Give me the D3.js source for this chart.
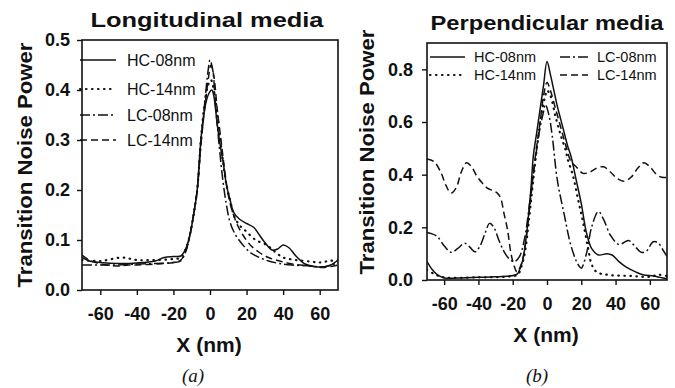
<!DOCTYPE html>
<html>
<head>
<meta charset="utf-8">
<script src="https://cdn.jsdelivr.net/npm/d3@7"></script>
<style>
  body { margin: 0; background: #fff; }
  svg { display: block; }
  text { font-family: "Liberation Sans", Arial, sans-serif; fill: #111; }
</style>
</head>
<body>
<svg id="chart" width="675" height="388"></svg>
<script>
// ---- data ----
const seriesNames = ['HC-08nm', 'HC-14nm', 'LC-08nm', 'LC-14nm'];
const xTicks = [-60, -40, -20, 0, 20, 40, 60];
const longTicks = [0.0, 0.1, 0.2, 0.3, 0.4, 0.5];
const perpTicks = [0.0, 0.2, 0.4, 0.6, 0.8];

// (a) longitudinal media
const longHC08x = [-70, -66, -60, -50, -40, -30, -25, -20, -16, -13, -11, -9, -7, -6, -5, -3, -1, 1, 2, 4, 6, 7, 9, 11, 13, 16, 20, 24, 27, 30, 34, 37, 40, 43, 47, 52, 57, 62, 66, 70];
const longHC08y = [0.065, 0.058, 0.055, 0.053, 0.054, 0.058, 0.065, 0.067, 0.068, 0.085, 0.11, 0.15, 0.2, 0.25, 0.3, 0.36, 0.39, 0.40, 0.39, 0.33, 0.28, 0.26, 0.21, 0.18, 0.155, 0.142, 0.133, 0.125, 0.11, 0.095, 0.08, 0.082, 0.09, 0.085, 0.068, 0.052, 0.047, 0.046, 0.05, 0.06];
const longHC14x = [-70, -60, -48, -40, -30, -20, -16, -13, -11, -9, -7, -5, -3, -1, 0.5, 3, 5, 7, 9, 11, 13, 16, 19, 25, 31, 36, 40, 47, 55, 60, 65, 70];
const longHC14y = [0.06, 0.058, 0.065, 0.06, 0.06, 0.062, 0.065, 0.085, 0.11, 0.15, 0.2, 0.3, 0.37, 0.41, 0.42, 0.38, 0.32, 0.26, 0.21, 0.18, 0.15, 0.13, 0.12, 0.1, 0.09, 0.075, 0.065, 0.06, 0.057, 0.055, 0.058, 0.06];
const longLC08x = [-70, -60, -50, -40, -30, -20, -16, -13, -11, -9, -7, -5, -3, -1, 0, 1.5, 3, 5, 7, 9, 11, 14, 18, 22, 27, 32, 38, 45, 55, 62, 70];
const longLC08y = [0.05, 0.05, 0.05, 0.052, 0.053, 0.055, 0.058, 0.08, 0.11, 0.15, 0.2, 0.29, 0.37, 0.44, 0.46, 0.44, 0.37, 0.29, 0.22, 0.17, 0.135, 0.11, 0.09, 0.075, 0.065, 0.058, 0.053, 0.05, 0.048, 0.046, 0.055];
const longLC14x = [-70, -66, -60, -50, -45, -40, -30, -20, -16, -13, -11, -9, -7, -5, -3, -1, 0.5, 2, 4, 6, 8, 10, 12, 15, 18, 22, 27, 32, 38, 45, 55, 62, 70];
const longLC14y = [0.07, 0.06, 0.052, 0.048, 0.05, 0.05, 0.052, 0.055, 0.06, 0.08, 0.11, 0.15, 0.2, 0.29, 0.36, 0.42, 0.45, 0.43, 0.36, 0.3, 0.24, 0.19, 0.16, 0.13, 0.11, 0.09, 0.075, 0.065, 0.058, 0.052, 0.048, 0.045, 0.05];

// (b) perpendicular media
const perpHC08x = [-70, -67, -64, -60, -50, -40, -30, -22, -18, -17, -15, -14, -12, -10, -9, -8, -6, -4, -2, 0, 2, 4, 6, 8, 10, 12, 14, 17, 20, 23, 26, 30, 35, 38, 42, 46, 52, 56, 62, 66, 70];
const perpHC08y = [0.07, 0.04, 0.02, 0.008, 0.008, 0.01, 0.012, 0.015, 0.02, 0.025, 0.057, 0.08, 0.17, 0.3, 0.38, 0.47, 0.56, 0.65, 0.74, 0.83, 0.78, 0.72, 0.66, 0.61, 0.56, 0.51, 0.47, 0.38, 0.29, 0.18, 0.12, 0.095, 0.1, 0.095, 0.07, 0.05, 0.03, 0.02, 0.015, 0.01, 0.005];
const perpHC14x = [-70, -65, -60, -40, -25, -20, -17, -15, -13, -11, -9, -7, -5, -3, -1, 0, 2, 5, 8, 11, 12, 15, 18, 21, 24, 26, 29, 35, 50, 60, 65, 70];
const perpHC14y = [0.04, 0.02, 0.01, 0.01, 0.012, 0.015, 0.02, 0.05, 0.1, 0.2, 0.32, 0.44, 0.55, 0.64, 0.7, 0.72, 0.7, 0.62, 0.55, 0.49, 0.46, 0.4, 0.31, 0.22, 0.12, 0.06, 0.03, 0.02, 0.015, 0.012, 0.02, 0.015];
const perpLC08x = [-70, -67, -64, -60, -56, -52, -48, -45, -42, -39, -36, -33.5, -31, -28, -25, -22, -19, -16, -13, -10, -7, -4, -2, -1, 1, 3, 6, 10, 14, 18, 20, 23, 26, 30, 33, 37, 42, 47.6, 51, 55, 58, 62, 65, 68, 70];
const perpLC08y = [0.18, 0.175, 0.165, 0.13, 0.105, 0.12, 0.14, 0.125, 0.107, 0.13, 0.18, 0.215, 0.2, 0.15, 0.107, 0.08, 0.07, 0.09, 0.16, 0.3, 0.45, 0.58, 0.64, 0.667, 0.63, 0.55, 0.38, 0.25, 0.13, 0.06, 0.045, 0.1, 0.2, 0.26, 0.23, 0.17, 0.135, 0.15, 0.13, 0.105, 0.11, 0.145, 0.14, 0.11, 0.09];
const perpLC14x = [-70, -66, -62, -59, -56, -53, -50, -47, -44, -41, -38, -35, -32, -29, -27, -25, -23, -21, -19, -17.5, -15, -13, -10, -7, -4, -2, 0, 2, 5, 8, 11, 14, 17, 21, 25, 29, 33, 37, 41, 45, 49, 53, 56.5, 60, 64, 67, 70];
const perpLC14y = [0.46, 0.45, 0.41, 0.36, 0.33, 0.35, 0.41, 0.445, 0.43, 0.395, 0.37, 0.35, 0.34, 0.33, 0.31, 0.25, 0.19, 0.1, 0.05, 0.03, 0.06, 0.12, 0.28, 0.46, 0.6, 0.7, 0.75, 0.72, 0.65, 0.58, 0.51, 0.45, 0.43, 0.405, 0.41, 0.425, 0.43, 0.41, 0.385, 0.375, 0.39, 0.425, 0.445, 0.43, 0.4, 0.39, 0.39];

const dashes = ['none', '0.5,5.5', '10,3,2,3', '7,4'];

const svg = d3.select('#chart');

function drawPanel(opt) {
  const x = d3.scaleLinear().domain([-70, 70]).range([opt.left, opt.right]);
  const y = d3.scaleLinear().domain(opt.yDomain).range([opt.bottom, opt.top]);
  const g = svg.append('g');

  g.append('clipPath').attr('id', opt.id + '-clip')
    .append('rect')
    .attr('x', opt.left).attr('y', opt.top)
    .attr('width', opt.right - opt.left).attr('height', opt.bottom - opt.top);

  const line = d3.line()
    .x(d => x(d[0]))
    .y(d => y(d[1]))
    .curve(d3.curveCatmullRom.alpha(0.5));

  opt.series.forEach((s, i) => {
    g.append('path')
      .datum(d3.zip(s[0], s[1]))
      .attr('clip-path', `url(#${opt.id}-clip)`)
      .attr('fill', 'none')
      .attr('stroke', '#111')
      .attr('stroke-width', i === 1 ? 2.2 : 1.5)
      .attr('stroke-linecap', i === 1 ? 'round' : 'butt')
      .attr('stroke-dasharray', dashes[i])
      .attr('d', line);
  });

  // frame
  g.append('rect')
    .attr('x', opt.left).attr('y', opt.top)
    .attr('width', opt.right - opt.left).attr('height', opt.bottom - opt.top)
    .attr('fill', 'none').attr('stroke', '#111').attr('stroke-width', 1.6);

  const xAxis = g.append('g')
    .attr('transform', `translate(0,${opt.bottom})`)
    .call(d3.axisBottom(x).tickValues(xTicks).tickSize(5).tickPadding(opt.xPad)
      .tickFormat(d => String(d)));
  const yAxis = g.append('g')
    .attr('transform', `translate(${opt.left},0)`)
    .call(d3.axisLeft(y).tickValues(opt.yTicks).tickSize(5).tickPadding(opt.yPad)
      .tickFormat(d => d.toFixed(1)));

  [xAxis, yAxis].forEach(a => {
    a.select('.domain').remove();
    a.selectAll('line').attr('stroke', '#111').attr('stroke-width', 1.4);
    a.selectAll('text')
      .attr('font-family', '"Liberation Sans", Arial, sans-serif')
      .attr('font-size', 18).attr('font-weight', 'bold').attr('fill', '#111');
  });

  // titles and axis labels
  g.append('text')
    .attr('x', (opt.left + opt.right) / 2 + opt.titleDx).attr('y', opt.titleY)
    .attr('text-anchor', 'middle').attr('font-size', 21).attr('font-weight', 'bold')
    .attr('textLength', 233).attr('lengthAdjust', 'spacingAndGlyphs')
    .text(opt.title);

  g.append('text')
    .attr('x', (opt.left + opt.right) / 2 - 1).attr('y', opt.xLabelY)
    .attr('text-anchor', 'middle').attr('font-size', 21).attr('font-weight', 'bold')
    .text('X (nm)');

  g.append('text')
    .attr('transform', `translate(${opt.yLabelX},${opt.yLabelY}) rotate(-90)`)
    .attr('text-anchor', 'middle').attr('font-size', 20).attr('font-weight', 'bold')
    .attr('textLength', 245).attr('lengthAdjust', 'spacingAndGlyphs')
    .text('Transition Noise Power');

  g.append('text')
    .attr('x', opt.capX).attr('y', 382)
    .attr('text-anchor', 'middle')
    .style('font-family', '"Liberation Serif", "Times New Roman", serif')
    .attr('font-size', 19).attr('font-style', 'italic')
    .text(opt.caption);

  // legend
  opt.legend.forEach((p, i) => {
    g.append('line')
      .attr('x1', p[0]).attr('x2', p[0] + p[2])
      .attr('y1', p[1]).attr('y2', p[1])
      .attr('stroke', '#111')
      .attr('stroke-width', i === 1 ? 2.2 : 1.5)
      .attr('stroke-linecap', i === 1 ? 'round' : 'butt')
      .attr('stroke-dasharray', dashes[i]);
    g.append('text')
      .attr('x', p[0] + p[2] + opt.legGap).attr('y', p[1] + opt.legFont * 0.36)
      .attr('font-size', opt.legFont)
      .text(seriesNames[i]);
  });
}

drawPanel({
  id: 'long',
  left: 82, right: 338, top: 40, bottom: 290,
  yDomain: [0, 0.5], yTicks: longTicks,
  xPad: 12, yPad: 7,
  title: 'Longitudinal media', titleY: 27, titleDx: -3,
  xLabelY: 352, yLabelX: 32, yLabelY: 165,
  caption: '(a)', capX: 193,
  legGap: 11, legFont: 16,
  legend: [[80, 60, 36], [80, 89, 36], [80, 115, 36], [80, 140, 36]],
  series: [[longHC08x, longHC08y], [longHC14x, longHC14y], [longLC08x, longLC08y], [longLC14x, longLC14y]]
});

drawPanel({
  id: 'perp',
  left: 427, right: 667, top: 43, bottom: 280,
  yDomain: [0, 0.9], yTicks: perpTicks,
  xPad: 12, yPad: 9,
  title: 'Perpendicular media', titleY: 30, titleDx: 0,
  xLabelY: 342, yLabelX: 374, yLabelY: 152,
  caption: '(b)', capX: 537,
  legGap: 9, legFont: 14.5,
  legend: [[430, 57, 35], [430, 75, 35], [560, 57, 28], [560, 75, 28]],
  series: [[perpHC08x, perpHC08y], [perpHC14x, perpHC14y], [perpLC08x, perpLC08y], [perpLC14x, perpLC14y]]
});
</script>
</body>
</html>
